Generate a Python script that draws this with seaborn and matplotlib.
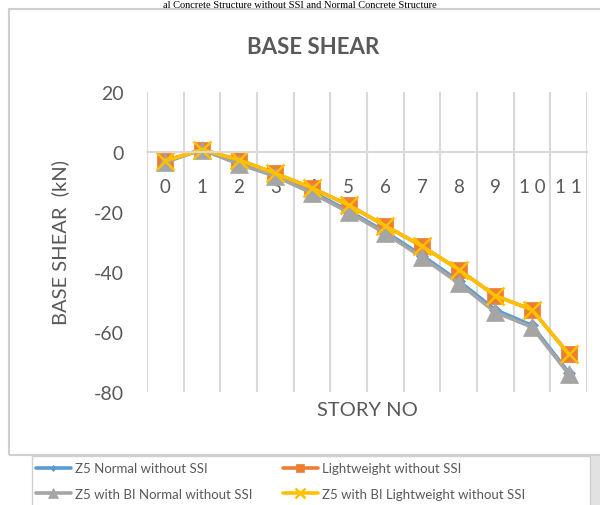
import numpy as np
import pandas as pd
import matplotlib
matplotlib.use("Agg")
import matplotlib.pyplot as plt
import seaborn as sns
from matplotlib.patches import Rectangle

# data
story = [0, 1, 2, 3, 4, 5, 6, 7, 8, 9, 10, 11]
story_labels = ["0", "1", "2", "3", "4", "5", "6", "7", "8", "9", "1 0", "1 1"]
z5_normal = [-3.2, 0.8, -3.8, -7.8, -13.3, -19.6, -26.6, -34.5, -43.0, -52.6, -57.8, -73.5]
lightweight = [-2.9, 0.8, -2.6, -7.1, -12.0, -17.7, -24.6, -31.4, -39.2, -47.9, -52.6, -67.3]
z5_bi_normal = [-3.4, 0.8, -4.0, -8.1, -13.7, -20.1, -27.1, -35.1, -43.7, -53.4, -58.4, -74.0]
z5_bi_lightweight = [-2.9, 0.8, -2.6, -7.1, -12.0, -17.7, -24.6, -31.4, -39.2, -47.9, -52.6, -67.3]

series_names = ["Z5 Normal without SSI", "Lightweight without SSI",
                "Z5 with BI Normal without SSI", "Z5 with BI Lightweight without SSI"]
colors = ["#5B9BD5", "#ED7D31", "#A5A5A5", "#FFC000"]
markers = ["D", "s", "^", "x"]
msizes = [6, 12, 13, 13]

df = pd.concat([
    pd.DataFrame({"story": story, "shear": vals, "series": name})
    for name, vals in zip(series_names, [z5_normal, lightweight, z5_bi_normal, z5_bi_lightweight])
])

sns.set_style("white")
plt.rcParams["font.family"] = ["Lato", "DejaVu Sans"]
txt = "#595959"

fig = plt.figure(figsize=(6, 5.06), dpi=100)

# page text above the chart
fig.text(0.5, 1 - 1 / 506, "al Concrete Structure without SSI and Normal Concrete Structure",
         family="Liberation Serif", fontsize=7.5, va="top", ha="center", color="black")

# chart frame
fig.patches.append(Rectangle((9 / 600, 1 - 456 / 506), 600 / 600, 446 / 506,
                             transform=fig.transFigure, fill=False, ec="#D0D0D0", lw=1.5))
# legend frame and its shadow
fig.patches.append(Rectangle((591 / 600, -0.01), 12 / 600, 49 / 506 + 0.01,
                             transform=fig.transFigure, fc="#E2E2E2", ec="none"))
fig.patches.append(Rectangle((32 / 600, -0.01), 558 / 600, 49 / 506 + 0.01,
                             transform=fig.transFigure, fc="white", ec="#D0D0D0", lw=1.0))

ax = fig.add_axes([147 / 600, 1 - 393 / 506, 440 / 600, 300 / 506])

for name, col, mk, sz in zip(series_names, colors, markers, msizes):
    sub = df[df["series"] == name]
    sns.lineplot(data=sub, x="story", y="shear", ax=ax, color=col, marker=mk,
                 markersize=sz, markeredgecolor=col,
                 markeredgewidth=1.8 if mk == "x" else 0.5, lw=2.6, legend=False, label=name)

ax.set_xlim(-0.5, 11.5)
ax.set_ylim(-80, 20)
ax.set_yticks([-80, -60, -40, -20, 0, 20])
ax.set_yticklabels(["-80", "-60", "-40", "-20", "0", "20"])
ax.set_xticks(story)
ax.set_xticklabels(story_labels)
ax.set_xticks(np.arange(-0.5, 12, 1), minor=True)
ax.grid(False)
ax.grid(True, axis="x", which="minor", color="#D9D9D9", lw=1.5)
ax.tick_params(axis="x", which="both", length=0, pad=19, labelsize=13.5, colors=txt)
ax.tick_params(axis="y", length=0, pad=17, labelsize=14, colors=txt)
for s in ["top", "right", "left"]:
    ax.spines[s].set_visible(False)
ax.spines["bottom"].set_position(("data", 0))
ax.spines["bottom"].set_color("#D9D9D9")
ax.spines["bottom"].set_linewidth(1.5)

ax.set_xlabel("STORY NO", fontsize=14.5, color=txt)
ax.xaxis.set_label_coords(0.502, -0.057)
ax.xaxis.label.set_va("center")
ax.set_ylabel("BASE SHEAR  (kN)", fontsize=14.5, color=txt)
ax.yaxis.set_label_coords(-0.198, 0.5)
ax.yaxis.label.set_va("center")

fig.text(313 / 600, 1 - 47 / 506, "BASE SHEAR", ha="center", va="center",
         fontsize=16, fontweight="bold", color=txt)

# legend rows: Z5 Normal | Lightweight ; Z5 BI Normal | Z5 BI Lightweight
order = [0, 2, 1, 3]
handles = [ax.lines[i] for i in order]
labels = [series_names[i] for i in order]
leg = fig.legend(handles, labels, loc="center left", ncol=2,
                 bbox_to_anchor=(36 / 600, 1 - 482 / 506),
                 fontsize=9.5, frameon=False,
                 handlelength=2.65, borderaxespad=0, labelspacing=1.0, columnspacing=2.3,
                 handletextpad=0.3, markerscale=0.5, borderpad=0)
for t in leg.get_texts():
    t.set_color(txt)

fig.savefig("out.png", dpi=100)
